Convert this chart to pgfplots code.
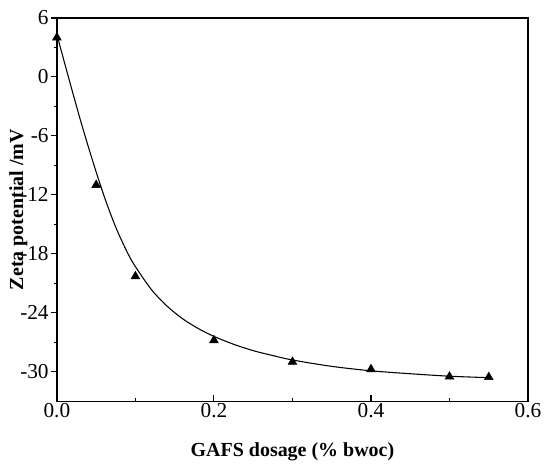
\documentclass[border=0pt]{standalone}
\usepackage{fontspec}
\setmainfont{Liberation Serif}
\usepackage{pgfplots}
\pgfplotsset{compat=1.18}
\begin{document}
\begin{tikzpicture}
\begin{axis}[name=ax, at={(0,0)}, anchor=south west, scale only axis,
  width=354pt, height=288pt,
  xmin=0, xmax=0.6, ymin=-33, ymax=6,
  xtick={0,0.2,0.4,0.6}, minor xtick={0.1,0.3,0.5},
  ytick={-30,-24,-18,-12,-6,0,6}, minor ytick={-27,-21,-15,-9,-3,3},
  xtick pos=bottom, ytick pos=left,
  xtick align=inside, ytick align=outside,
  major tick length=4.5pt, minor tick length=2.5pt,
  axis line style={line width=1pt},
  every tick/.style={black, line width=0.8pt},
  /pgf/number format/assume math mode=true,
  xticklabel style={/pgf/number format/.cd, fixed, precision=1, zerofill},
  ticklabel style={font=\fontsize{16}{18}\selectfont, inner sep=1.5pt},
  xlabel={GAFS dosage (\% bwoc)}, ylabel={Zeta potential /mV},
  label style={font=\bfseries\fontsize{15}{18}\selectfont},
  xlabel style={at={(axis description cs:0.5,-0.132)}, anchor=center},
  ylabel style={at={(axis description cs:-0.082,0.5)}, anchor=center},
]
\addplot[black, line width=0.8pt, smooth, tension=0.5, no marks] coordinates {
  (0,4.3) (0.015,-0.1) (0.03,-4.4) (0.045,-8.4) (0.06,-12.1) (0.075,-15.3)
  (0.09,-17.9) (0.10,-19.3) (0.12,-21.6) (0.14,-23.3) (0.16,-24.6)
  (0.18,-25.6) (0.20,-26.4) (0.225,-27.2) (0.25,-27.85) (0.275,-28.35)
  (0.30,-28.8) (0.35,-29.45) (0.40,-29.9) (0.45,-30.2) (0.50,-30.45) (0.55,-30.6)
};
\addplot[only marks, mark=triangle*, mark size=3.8pt, black] coordinates {
  (0,4.0) (0.05,-11.0) (0.1,-20.3) (0.2,-26.8) (0.3,-29.0) (0.4,-29.75) (0.5,-30.5) (0.55,-30.55)
};
\end{axis}
\pgfresetboundingbox
\path (-42.75pt,-46.5pt) rectangle (366.75pt,301.5pt);
\end{tikzpicture}
\end{document}
